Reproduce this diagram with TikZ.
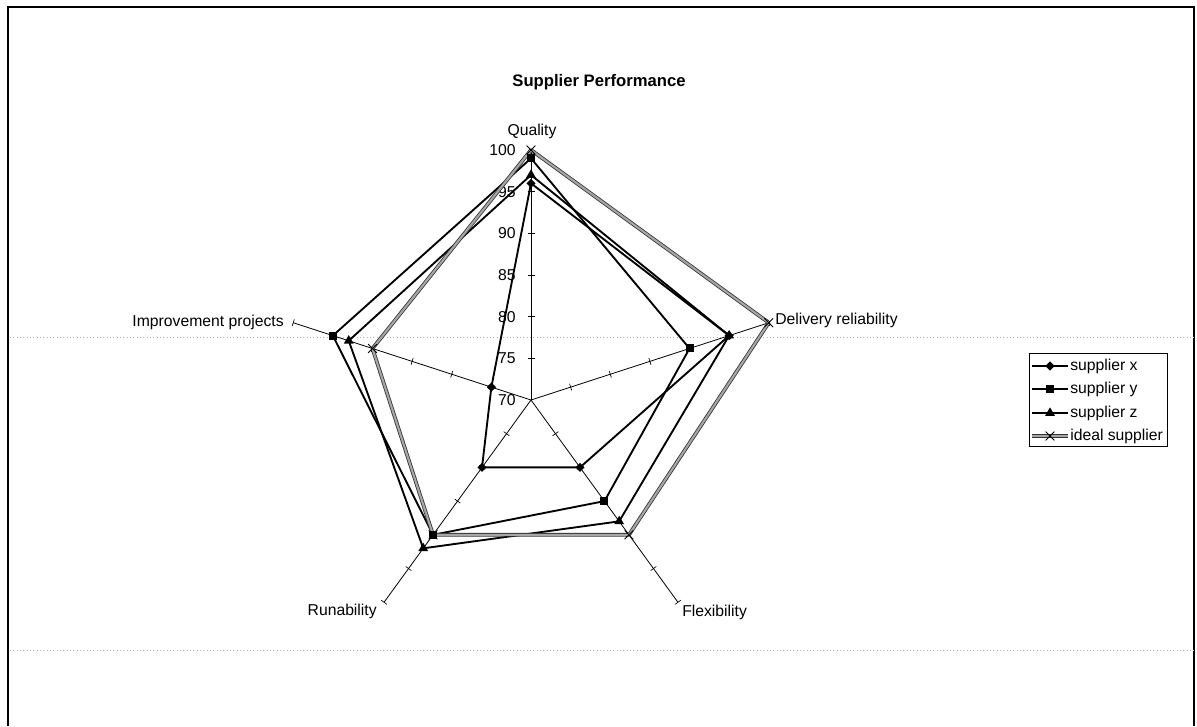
\documentclass[tikz,border=0pt]{standalone}
\usepackage{fontspec}
\setmainfont{Liberation Sans}
\usetikzlibrary{shapes.geometric,shapes.misc}
\begin{document}
\begin{tikzpicture}[x=0.75pt,y=0.75pt,
  frameline/.style={black,line width=1.1pt},
  scanline/.style={gray!60,dotted,line width=0.5pt},
  axisline/.style={black,line width=0.6pt},
  tickmark/.style={black,line width=0.5pt},
  series/.style={black,line width=1.4pt,line join=round},
  idealline/.style={draw=black!80,line width=0.6pt,double=gray!70,double distance=1.6pt,line join=round},
  mkdia/.style={diamond,fill=black,inner sep=0pt,minimum size=7pt},
  mksq/.style={rectangle,fill=black,inner sep=0pt,minimum size=6pt},
  mktri/.style={regular polygon,regular polygon sides=3,fill=black,inner sep=0pt,minimum size=8.5pt},
  mkx/.style={cross out,draw=black,line width=0.6pt,inner sep=0pt,minimum size=6pt},
  lbl/.style={font=\fontsize{11.8}{14}\selectfont,inner sep=0pt},
  ttl/.style={font=\fontsize{12.5}{15}\selectfont\bfseries,inner sep=0pt},
  legendbox/.style={draw=black,line width=0.6pt}
]
\useasboundingbox (0,0) rectangle (1197,726);

% chart area frame and faint page lines
\draw[frameline] (8,0) -- (8,719) -- (1194,719) -- (1194,0);
\draw[scanline] (10,389) -- (1195,389);
\draw[scanline] (10,76) -- (1195,76);

% title
\node[ttl] (title) at (599,644) {Supplier Performance};

% centre (value 70) and axis ends (value 100)
\coordinate (O) at (531,326);
\foreach \n/\a in {Q/90,D/18,F/-54,R/-126,I/162}{
  \coordinate (a\n) at ([shift={(\a:250)}]O);
  \draw[axisline] (O) -- (a\n);
  \foreach \v in {5,10,...,30}
    \draw[tickmark] ([shift={(\a:{\v*25/3})}]O) ++({\a+90}:3.5) -- ++({\a-90}:7);
}

% value scale on the Quality axis
\foreach \v in {70,75,...,100}
  \node[lbl,anchor=east] (v\v) at (516,{326+(\v-70)*25/3}) {\v};

% axis captions
\node[lbl] (capQ) at (532,595) {Quality};
\node[lbl,anchor=west] (capD) at (775,406) {Delivery reliability};
\node[lbl,anchor=west] (capF) at (682,114) {Flexibility};
\node[lbl,anchor=east] (capR) at (377,115) {Runability};
\node[lbl,anchor=east] (capI) at (284,404) {Improvement projects};

% data points
\foreach \n/\a/\vx/\vy/\vz/\vi in {Q/90/96/99/97/100, D/18/95/90/95/100,
    F/-54/80/85/88/90, R/-126/80/90/92/90, I/162/75/95/93/90}{
  \coordinate (x\n) at ([shift={(\a:{(\vx-70)*25/3})}]O);
  \coordinate (y\n) at ([shift={(\a:{(\vy-70)*25/3})}]O);
  \coordinate (z\n) at ([shift={(\a:{(\vz-70)*25/3})}]O);
  \coordinate (i\n) at ([shift={(\a:{(\vi-70)*25/3})}]O);
}

% series polygons
\draw[series] (xQ) -- (xD) -- (xF) -- (xR) -- (xI) -- cycle;
\draw[series] (yQ) -- (yD) -- (yF) -- (yR) -- (yI) -- cycle;
\draw[series] (zQ) -- (zD) -- (zF) -- (zR) -- (zI) -- cycle;
\draw[idealline] (iQ) -- (iD) -- (iF) -- (iR) -- (iI) -- cycle;

% markers
\foreach \n in {Q,D,F,R,I}{
  \node[mkdia] (mx\n) at (x\n) {};
  \node[mksq] (my\n) at (y\n) {};
  \node[mktri] (mz\n) at (z\n) {};
  \node[mkx] (mi\n) at (i\n) {};
}

% legend
\draw[legendbox] (1029,280) rectangle (1167,373);
\foreach \k/\yy in {x/360,y/337,z/313,i/290}{
  \coordinate (l\k a) at (1032,\yy);
  \coordinate (l\k b) at (1068,\yy);
  \coordinate (l\k m) at (1050,\yy);
}
\draw[series] (lxa) -- (lxb);
\node[mkdia] (lgx) at (lxm) {};
\node[lbl,anchor=west] (tx) at (1070,360) {supplier x};
\draw[series] (lya) -- (lyb);
\node[mksq] (lgy) at (lym) {};
\node[lbl,anchor=west] (ty) at (1070,337) {supplier y};
\draw[series] (lza) -- (lzb);
\node[mktri] (lgz) at (lzm) {};
\node[lbl,anchor=west] (tz) at (1070,313) {supplier z};
\draw[idealline] (lia) -- (lib);
\node[mkx] (lgi) at (lim) {};
\node[lbl,anchor=west] (ti) at (1070,290) {ideal supplier};
\end{tikzpicture}
\end{document}
